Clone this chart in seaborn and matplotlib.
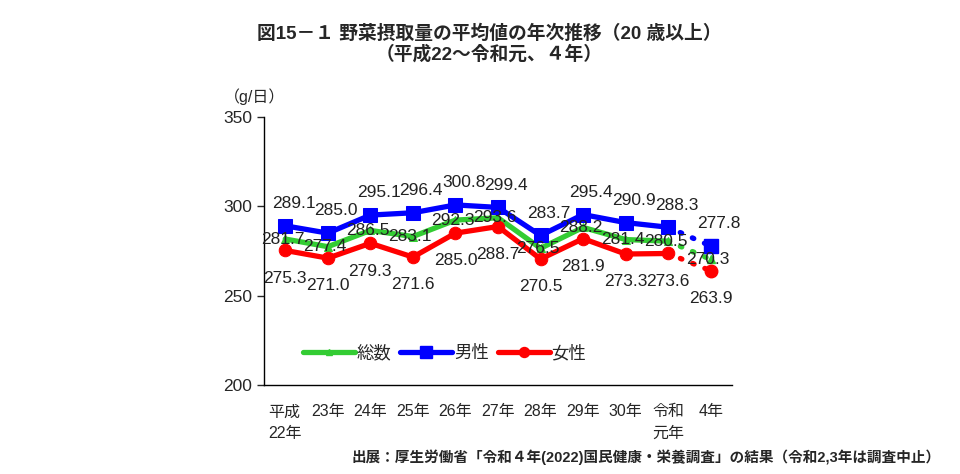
import pandas as pd
import matplotlib
matplotlib.use("Agg")
import matplotlib.pyplot as plt
import seaborn as sns
from matplotlib.lines import Line2D

sns.set_style("white")
plt.rcParams['font.family'] = ['Liberation Sans', 'Noto Sans CJK JP', 'DejaVu Sans']

years = ['平成\n22年', '23年', '24年', '25年', '26年', '27年', '28年', '29年', '30年', '令和\n元年', '4年']
total = [281.7, 277.4, 286.5, 283.1, 292.3, 293.6, 276.5, 288.2, 281.4, 280.5, 270.3]
male = [289.1, 285.0, 295.1, 296.4, 300.8, 299.4, 283.7, 295.4, 290.9, 288.3, 277.8]
female = [275.3, 271.0, 279.3, 271.6, 285.0, 288.7, 270.5, 281.9, 273.3, 273.6, 263.9]

series = [
    ('総数', total, '#33cc33', '^', 6, (-2, 0)),
    ('男性', male, '#0000ff', 's', 10, (6, 16)),
    ('女性', female, '#ff0000', 'o', 9, (0, -20)),
]

fig = plt.figure(figsize=(9.6, 4.74), dpi=100)
ax = fig.add_axes([0.275, 0.188, 0.4875, 0.565])

x = list(range(len(years)))
for name, vals, col, mk, ms, off in series:
    df = pd.DataFrame({'x': x, 'y': vals})
    solid = df.iloc[:-1]
    tail = df.iloc[-2:]
    sns.lineplot(data=solid, x='x', y='y', ax=ax, color=col, lw=3.8,
                 marker=mk, markersize=ms, markeredgecolor=col)
    sns.lineplot(data=tail, x='x', y='y', ax=ax, color=col, lw=3.8,
                 linestyle=(0, (0.3, 2.2)), dash_capstyle='round')
    ax.plot(df['x'].iloc[-1], df['y'].iloc[-1], marker=mk, markersize=ms,
            color=col, markeredgecolor=col)
    for xi, v in zip(x, vals):
        ax.annotate(f'{v:.1f}', (xi, v), xytext=off, textcoords='offset points',
                    ha='center', va='center', fontsize=12.5, color='#222222')

ax.set_xlim(-0.5, len(years) - 0.5)
ax.set_ylim(200, 350)
ax.set_yticks([200, 250, 300, 350])
ax.set_xticks(x)
ax.set_xticklabels(years, fontsize=11.5, va='top', ha='center', linespacing=1.55)
ax.set_xticks([i - 0.5 for i in range(len(years) + 1)], minor=True)
ax.tick_params(axis='x', which='major', length=0, pad=14)
ax.tick_params(axis='x', which='minor', length=5, width=1, direction='out')
ax.tick_params(axis='y', length=5, width=1, direction='out', labelsize=12.5, left=True)
ax.set_xlabel('')
ax.set_ylabel('')
for lab in ax.get_xticklabels():
    lab.set_multialignment('left')
sns.despine(ax=ax)
for s in ['left', 'bottom']:
    ax.spines[s].set_color('black')
    ax.spines[s].set_linewidth(1)

ax.text(-0.085, 1.075, '（g/日）', transform=ax.transAxes, fontsize=11.5, ha='left', va='center')

handles = [Line2D([0], [0], color=col, lw=3.8, marker=mk, markersize=ms * 0.8,
                  solid_capstyle='round') for name, vals, col, mk, ms, off in series]
ax.legend(handles, [s[0] for s in series], loc='center left', bbox_to_anchor=(0.05, 0.12),
          ncol=3, frameon=False, fontsize=12.5, handlelength=3.0, handletextpad=0.1,
          columnspacing=0.5)

fig.text(0.51, 0.93, '図15－１ 野菜摂取量の平均値の年次推移（20 歳以上）',
         ha='center', va='center', fontsize=13.5, fontweight='bold')
fig.text(0.51, 0.886, '（平成22～令和元、４年）',
         ha='center', va='center', fontsize=13.5, fontweight='bold')
fig.text(0.98, 0.035, '出展：厚生労働省「令和４年(2022)国民健康・栄養調査」の結果（令和2,3年は調査中止）',
         ha='right', va='center', fontsize=10.5, fontweight='bold')

fig.savefig('out.png', dpi=100)
